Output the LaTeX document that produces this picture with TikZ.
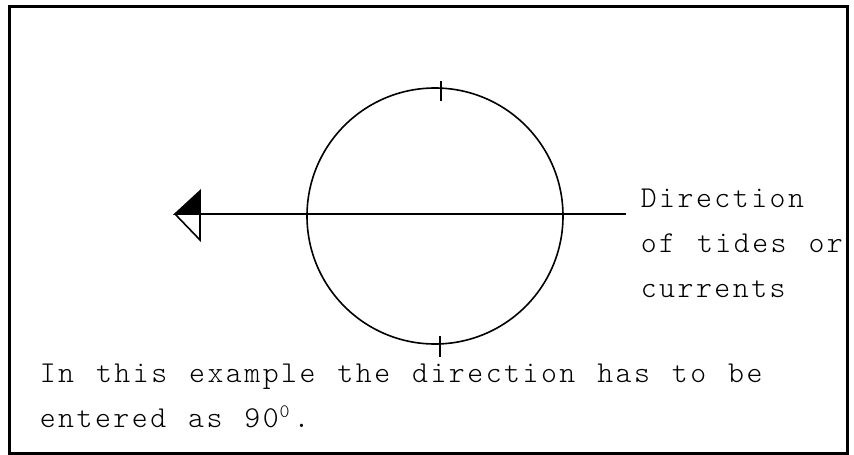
\documentclass[tikz,border=0pt]{standalone}
\usepackage{fontspec}
\usetikzlibrary{positioning}

\newfontfamily\typefont{lmmonolt10-regular.otf}[LetterSpace=8.3]
\newcommand{\typedtext}{\typefont\fontsize{30.3}{45}\selectfont\spaceskip=21.9pt\relax}
\newcommand{\degnought}{\makebox[15pt][l]{\hspace{1pt}\raisebox{10pt}{\fontsize{19}{19}\selectfont 0}}}

\begin{document}
\begin{tikzpicture}[
        x=1pt, y=-1pt,
        line width=1.6pt,
        every node/.style={inner sep=0pt, align=left, font=\typedtext},
        frame/.style={line width=3pt},
        dial/.style={draw, circle, minimum size=256pt, line width=1.6pt},
        tickmark/.style={line width=1.6pt}
    ]
        \useasboundingbox (0,0) rectangle (854,455);
        \draw[frame] (9,6) rectangle (847,453);

        % circle with its two ticks
        \node[dial] (dial) at (435,216) {};
        \draw[tickmark] ([xshift=6pt,yshift=6pt]dial.north) -- ++(0,20);
        \draw[tickmark] ([xshift=5pt,yshift=9pt]dial.south) -- ++(0,21);

        % direction arrow
        \coordinate (tail) at (626,214);
        \coordinate (head) at (175,214);
        \draw (tail) -- ([xshift=25pt]head);
        \filldraw[line join=miter] (head) -- ++(25,-23) -- ++(0,23) -- cycle;
        \draw[line join=miter] (head) -- ++(25,26) -- ++(0,-26);

        % base anchor sits on the last line
        \node[anchor=base west] (label) at (640,297) {Direction\\of tides or\\currents};
        \node[anchor=base west] (note) at (39,427) {In this example the direction has to be\\entered as 90\degnought.};
    \end{tikzpicture}
\end{document}
